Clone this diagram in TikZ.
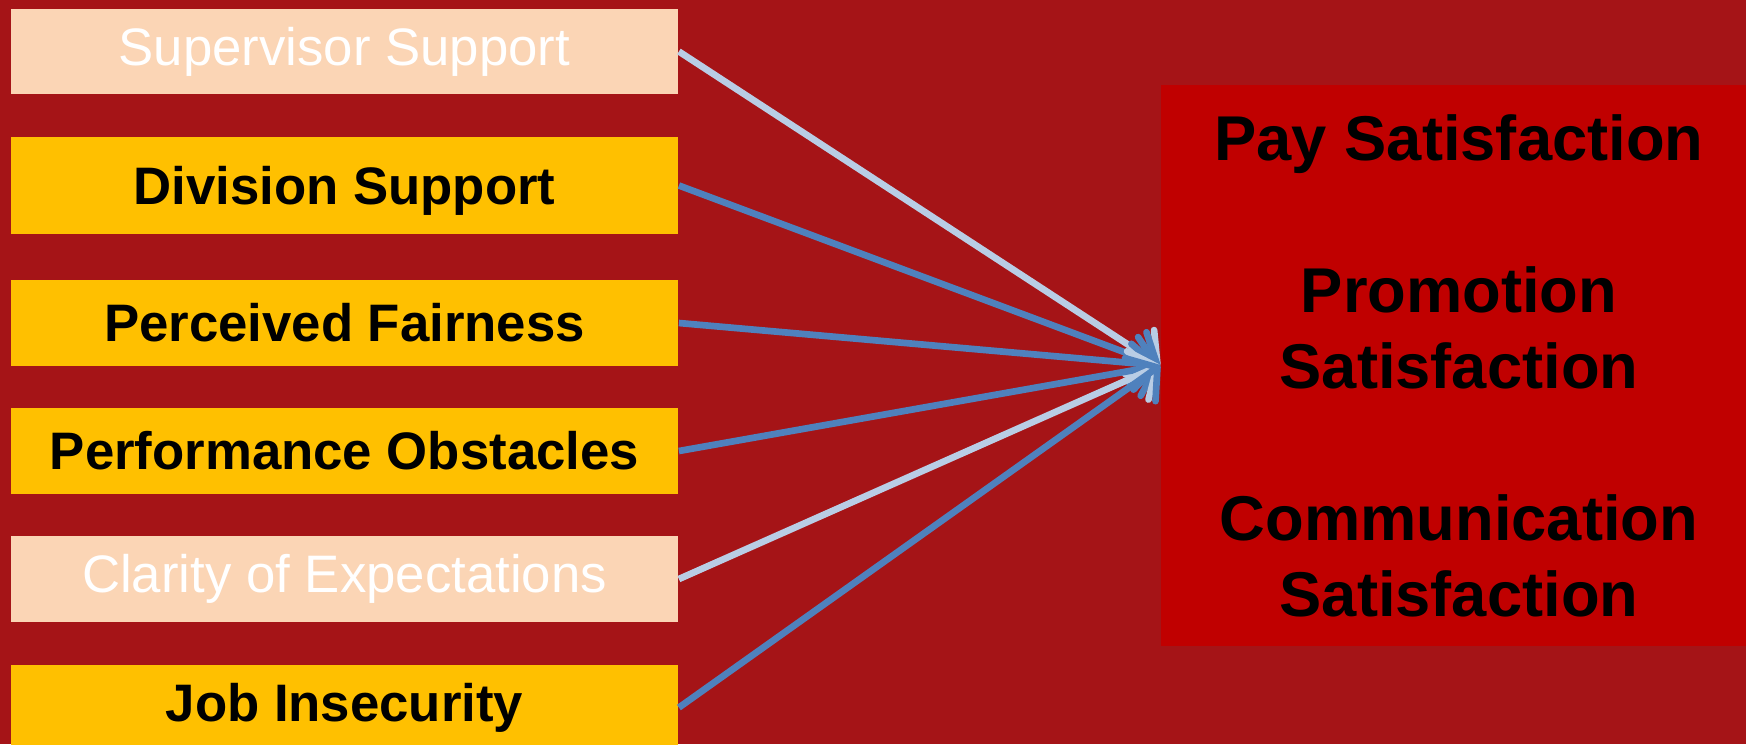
\documentclass[tikz,border=0pt]{standalone}
\usepackage{fontspec}
\setmainfont{Liberation Sans}
\usepackage{tikz}
\usetikzlibrary{arrows.meta}

\definecolor{slidered}{HTML}{A51417}
\definecolor{boxred}{HTML}{C00000}
\definecolor{peach}{HTML}{FBD5B5}
\definecolor{gold}{HTML}{FFC000}
\definecolor{paleblue}{HTML}{B9CDE5}
\definecolor{steelblue}{HTML}{4F81BD}

\begin{document}
\begin{tikzpicture}[x=0.01cm,y=-0.01cm]
                \tikzstyle{factor}=[rectangle, minimum width=6.67cm, minimum height=0.85cm, inner sep=0pt]
                \tikzstyle{lightfactor}=[factor, fill=peach, text=white, font=\fontsize{15}{18}\selectfont]
                \tikzstyle{boldfactor}=[factor, fill=gold, text=black, font=\fontsize{15}{18}\selectfont\bfseries]
                \tikzstyle{outcome}=[rectangle, fill=boxred, text=black, align=center, minimum width=5.96cm, minimum height=5.61cm, font=\fontsize{18}{21.6}\selectfont\bfseries]
                \tikzstyle{edge} = [draw, line width=1.9pt, -{Straight Barb[length=6pt,width=15pt,round]}]

                \clip (0,0) rectangle (1746,744);
                \fill[slidered] (0,0) rectangle (1746,744);

                \node[lightfactor] (sup) at (344.5,51.5) {Supervisor Support};
                \node[boldfactor, minimum height=0.97cm, text height=14pt, text depth=3.2pt] (div) at (344.5,185.5) {Division Support};
                \node[boldfactor] (fair) at (344.5,323) {Perceived Fairness};
                \node[boldfactor] (obst) at (344.5,451) {Performance Obstacles};
                \node[lightfactor] (clar) at (344.5,579) {Clarity of Expectations};
                \node[boldfactor] (job) at (344.5,707.5) {Job Insecurity};

                \node[outcome] (sat) at (1459,365.5) {Pay Satisfaction\\[21.6pt]
                    Promotion\\ Satisfaction\\[21.6pt]
                    Communication\\ Satisfaction};

                \foreach \source/\colour in {sup/paleblue, div/steelblue, fair/steelblue, obst/steelblue, clar/paleblue, job/steelblue}
                \path[edge, draw=\colour] (\source.east) -- (sat.west);
            \end{tikzpicture}
\end{document}
